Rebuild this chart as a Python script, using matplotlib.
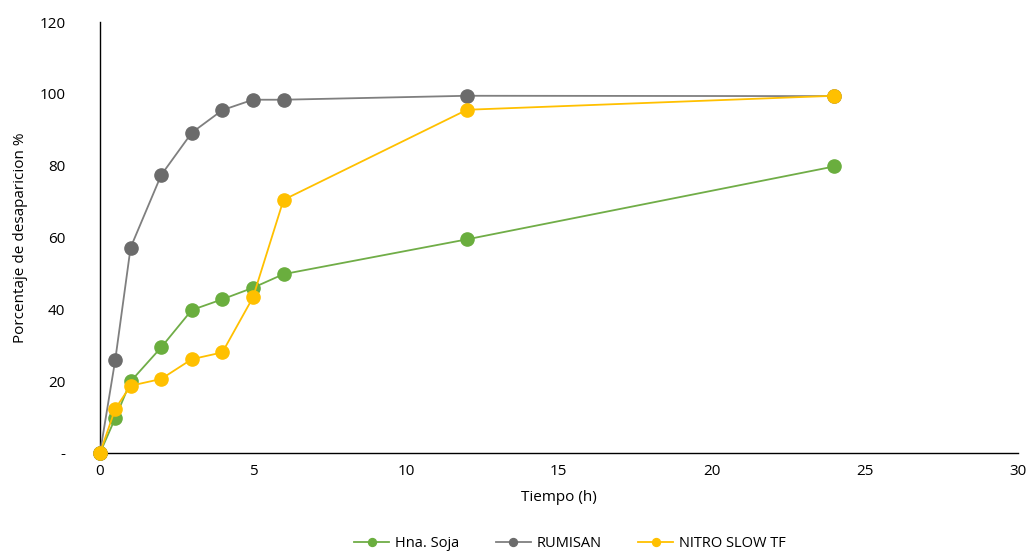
import matplotlib
matplotlib.use("Agg")
import matplotlib.pyplot as plt
from matplotlib.ticker import FuncFormatter

plt.rcParams['font.family'] = ['Open Sans', 'DejaVu Sans']

tiempo = [0, 0.5, 1, 2, 3, 4, 5, 6, 12, 24]
hna_soja = [0, 9.7, 19.9, 29.4, 39.8, 42.8, 46.0, 49.8, 59.5, 79.8]
rumisan = [0, 26.0, 57.2, 77.4, 89.2, 95.5, 98.4, 98.4, 99.5, 99.4]
nitro_slow = [0, 12.3, 18.7, 20.6, 26.1, 28.0, 43.3, 70.5, 95.6, 99.5]

series = [
    ("Hna. Soja", hna_soja, "#70AD47", "#6AAE3E"),
    ("RUMISAN", rumisan, "#7F7F7F", "#6B6B6B"),
    ("NITRO SLOW TF", nitro_slow, "#FFC000", "#FFC000"),
]

fig = plt.figure(figsize=(10.31, 5.55), dpi=100)
ax = fig.add_axes([0.097, 0.184, 0.890, 0.776])

for name, vals, lc, mc in series:
    ax.plot(tiempo, vals, color=lc, lw=1.3, marker='o', markersize=9.5,
            markerfacecolor=mc, markeredgecolor=mc, label=name, clip_on=False, zorder=3)

ax.set_xlim(0, 30)
ax.set_ylim(0, 120)
ax.set_xticks(range(0, 31, 5))
ax.set_yticks(range(0, 121, 20))
ax.yaxis.set_major_formatter(FuncFormatter(lambda v, p: "-" if v == 0 else f"{int(v)}"))
for s in ['top', 'right']:
    ax.spines[s].set_visible(False)
for s in ['left', 'bottom']:
    ax.spines[s].set_color('black')
    ax.spines[s].set_linewidth(1.0)
ax.tick_params(axis='both', labelsize=11, colors='black', direction='out')
ax.tick_params(axis='y', length=0, pad=25)
ax.tick_params(axis='x', length=0, pad=8)
ax.set_xlabel("Tiempo (h)", fontsize=11, labelpad=8)
ax.set_ylabel("Porcentaje de desaparicion %", fontsize=11, labelpad=8)
fig.legend(*ax.get_legend_handles_labels(), loc='center', bbox_to_anchor=(0.553, 0.02),
           ncol=3, frameon=False, fontsize=10.5, markerscale=0.6, handlelength=2.4,
           handletextpad=0.4, columnspacing=2.5, borderpad=0)

fig.savefig("out.png", dpi=100)
